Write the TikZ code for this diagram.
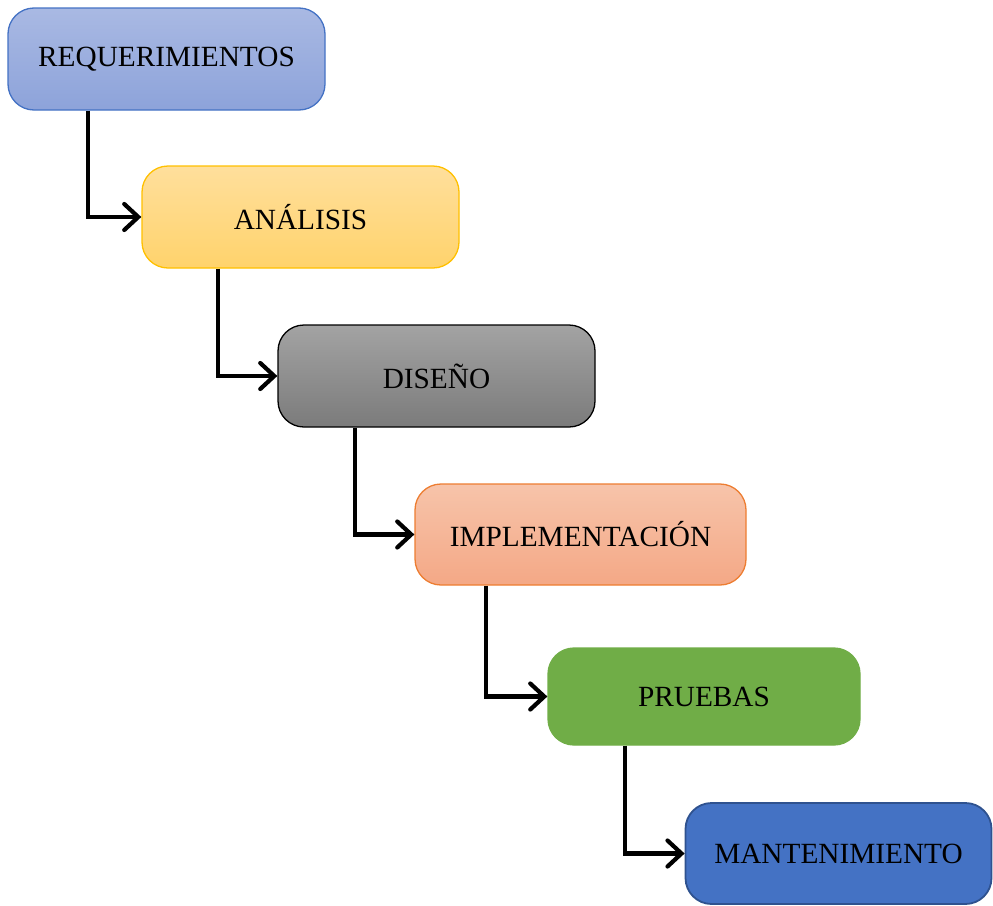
\documentclass[tikz,border=0pt]{standalone}
\usepackage{fontspec}
\setmainfont{Liberation Serif}
\usetikzlibrary{arrows.meta}
\definecolor{reqtop}{HTML}{A9B9E3}
\definecolor{reqbot}{HTML}{8DA3DA}
\definecolor{reqln}{HTML}{4472C4}
\definecolor{anatop}{HTML}{FFDF9C}
\definecolor{anabot}{HTML}{FFD36C}
\definecolor{analn}{HTML}{FFC000}
\definecolor{distop}{HTML}{A3A3A3}
\definecolor{disbot}{HTML}{7B7B7B}
\definecolor{imptop}{HTML}{F7C4AA}
\definecolor{impbot}{HTML}{F4A886}
\definecolor{impln}{HTML}{ED7D31}
\definecolor{prugr}{HTML}{70AD47}
\definecolor{manbl}{HTML}{4472C4}
\definecolor{manln}{HTML}{2F528F}
\tikzset{
  phase/.style={rectangle, rounded corners=26pt, line width=1.3pt, inner sep=0pt,
    font=\fontsize{29.3}{33}\selectfont, text=black},
  conn/.style={line width=4.2pt, -{Straight Barb[length=14pt,width=26pt,line cap=round]}}
}
\begin{document}
\begin{tikzpicture}[x=1pt,y=-1pt]
\useasboundingbox (0,0) rectangle (993,905);
\node[phase, draw=reqln, top color=reqtop, bottom color=reqbot,
  minimum width=317pt, minimum height=102pt] (req) at (166.5,59) {REQUERIMIENTOS};
\node[phase, draw=analn, top color=anatop, bottom color=anabot,
  minimum width=317pt, minimum height=102pt] (ana) at (300.5,217) {ANÁLISIS};
\node[phase, draw=black, top color=distop, bottom color=disbot,
  minimum width=317pt, minimum height=102pt] (dis) at (436.5,376) {DISEÑO};
\node[phase, draw=impln, top color=imptop, bottom color=impbot,
  minimum width=331pt, minimum height=101pt] (imp) at (580.5,534.5) {IMPLEMENTACIÓN};
\node[phase, draw=prugr, fill=prugr,
  minimum width=312pt, minimum height=97pt] (pru) at (704,696.5) {PRUEBAS};
\node[phase, draw=manln, fill=manbl, line width=1.8pt,
  minimum width=306pt, minimum height=101pt] (man) at (838.5,853.5) {MANTENIMIENTO};
\draw[conn] ([xshift=81pt]req.south west) |- (ana.west);
\draw[conn] ([xshift=77pt]ana.south west) |- (dis.west);
\draw[conn] ([xshift=78pt]dis.south west) |- (imp.west);
\draw[conn] ([xshift=72pt]imp.south west) |- (pru.west);
\draw[conn] ([xshift=78pt]pru.south west) |- (man.west);
\end{tikzpicture}
\end{document}
